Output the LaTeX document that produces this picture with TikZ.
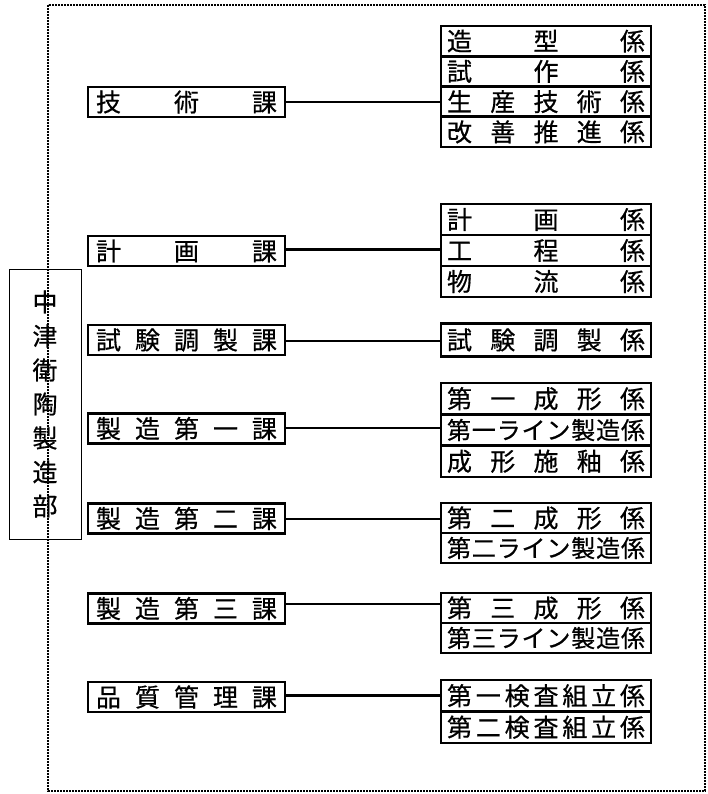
\documentclass[tikz,border=0pt]{standalone}
\usepackage{fontspec}
\newfontfamily\jp[FakeBold=0.6]{Noto Sans CJK JP}
\begin{document}
\begin{tikzpicture}[x=1pt,y=-1pt,
  kabox/.style={draw, line width=2.8pt, minimum width=197pt, minimum height=30pt,
    text width=181pt, inner sep=0pt, align=left, font=\jp\fontsize{25}{27}\selectfont},
  kkbox/.style={draw, line width=2.8pt, minimum width=210pt,
    text width=198pt, inner sep=0pt, align=left, font=\jp\fontsize{25}{27}\selectfont},
  wide/.style={font=\jp\fontsize{24}{26}\selectfont},
  deptbox/.style={draw, line width=0.8pt, minimum width=72pt, minimum height=270pt,
    inner sep=0pt, align=center, font=\jp\fontsize{25}{34}\selectfont},
  frame/.style={line width=2.4pt, dash pattern=on 2pt off 1pt},
  conn/.style={line width=2.4pt}]
\useasboundingbox (0,0) rectangle (708,794);

% department box
\node[deptbox] (dept) at (45,404) {中\\津\\衛\\陶\\製\\造\\部};

% sections (課)
\node[kabox] (k1) at (186.5,102) {技\hfill 術\hfill 課};
\node[kabox] (k2) at (186.5,251) {計\hfill 画\hfill 課};
\node[kabox] (k3) at (186.5,340) {試\hfill 験\hfill 調\hfill 製\hfill 課};
\node[kabox] (k4) at (186.5,428.5) {製\hfill 造\hfill 第\hfill 一\hfill 課};
\node[kabox] (k5) at (186.5,518.5) {製\hfill 造\hfill 第\hfill 二\hfill 課};
\node[kabox] (k6) at (186.5,608.5) {製\hfill 造\hfill 第\hfill 三\hfill 課};
\node[kabox] (k7) at (186.5,697) {品\hfill 質\hfill 管\hfill 理\hfill 課};

% groups (係)
\node[kkbox, minimum height=30.25pt] (g1a) at (546,41.1) {造\hfill 型\hfill 係};
\node[kkbox, minimum height=30.25pt] (g1b) at (546,71.4) {試\hfill 作\hfill 係};
\node[kkbox, minimum height=30.25pt] (g1c) at (546,101.6) {生\hfill 産\hfill 技\hfill 術\hfill 係};
\node[kkbox, minimum height=30.25pt] (g1d) at (546,131.9) {改\hfill 善\hfill 推\hfill 進\hfill 係};

\node[kkbox, minimum height=31pt] (g2a) at (546,219.5) {計\hfill 画\hfill 係};
\node[kkbox, minimum height=31pt] (g2b) at (546,250.5) {工\hfill 程\hfill 係};
\node[kkbox, minimum height=31pt] (g2c) at (546,281.5) {物\hfill 流\hfill 係};

\node[kkbox, minimum height=33pt] (g3a) at (546,340) {試\hfill 験\hfill 調\hfill 製\hfill 係};

\node[kkbox, minimum height=31.3pt] (g4a) at (546,398.7) {第\hfill 一\hfill 成\hfill 形\hfill 係};
\node[kkbox, wide, minimum height=31.3pt] (g4b) at (546,430) {第\hfill 一\hfill ラ\hfill イ\hfill ン\hfill 製\hfill 造\hfill 係};
\node[kkbox, minimum height=31.3pt] (g4c) at (546,461.3) {成\hfill 形\hfill 施\hfill 釉\hfill 係};

\node[kkbox, minimum height=30pt] (g5a) at (546,518) {第\hfill 二\hfill 成\hfill 形\hfill 係};
\node[kkbox, wide, minimum height=30pt] (g5b) at (546,548) {第\hfill 二\hfill ラ\hfill イ\hfill ン\hfill 製\hfill 造\hfill 係};

\node[kkbox, minimum height=30pt] (g6a) at (546,608) {第\hfill 三\hfill 成\hfill 形\hfill 係};
\node[kkbox, wide, minimum height=30pt] (g6b) at (546,638) {第\hfill 三\hfill ラ\hfill イ\hfill ン\hfill 製\hfill 造\hfill 係};

\node[kkbox, minimum height=31.5pt] (g7a) at (546,695.7) {第\hfill 一\hfill 検\hfill 査\hfill 組\hfill 立\hfill 係};
\node[kkbox, minimum height=31.5pt] (g7b) at (546,727.2) {第\hfill 二\hfill 検\hfill 査\hfill 組\hfill 立\hfill 係};

% connector levels
\coordinate (c1) at (0,102);
\coordinate (c2) at (0,249.5);
\coordinate (c3) at (0,341);
\coordinate (c4) at (0,428);
\coordinate (c5) at (0,519);
\coordinate (c6) at (0,604);
\coordinate (c7) at (0,695.5);

\draw[conn] (k1.east |- c1) -- (g1c.west |- c1);
\draw[conn] (k2.east |- c2) -- (g2b.west |- c2);
\draw[conn] (k3.east |- c3) -- (g3a.west |- c3);
\draw[conn] (k4.east |- c4) -- (g4b.west |- c4);
\draw[conn] (k5.east |- c5) -- (g5a.west |- c5);
\draw[conn] (k6.east |- c6) -- (g6a.west |- c6);
\draw[conn] (k7.east |- c7) -- (g7a.west |- c7);

% dotted frame (drawn on top)
\draw[frame] (48,5) rectangle (705,791);
\end{tikzpicture}
\end{document}
